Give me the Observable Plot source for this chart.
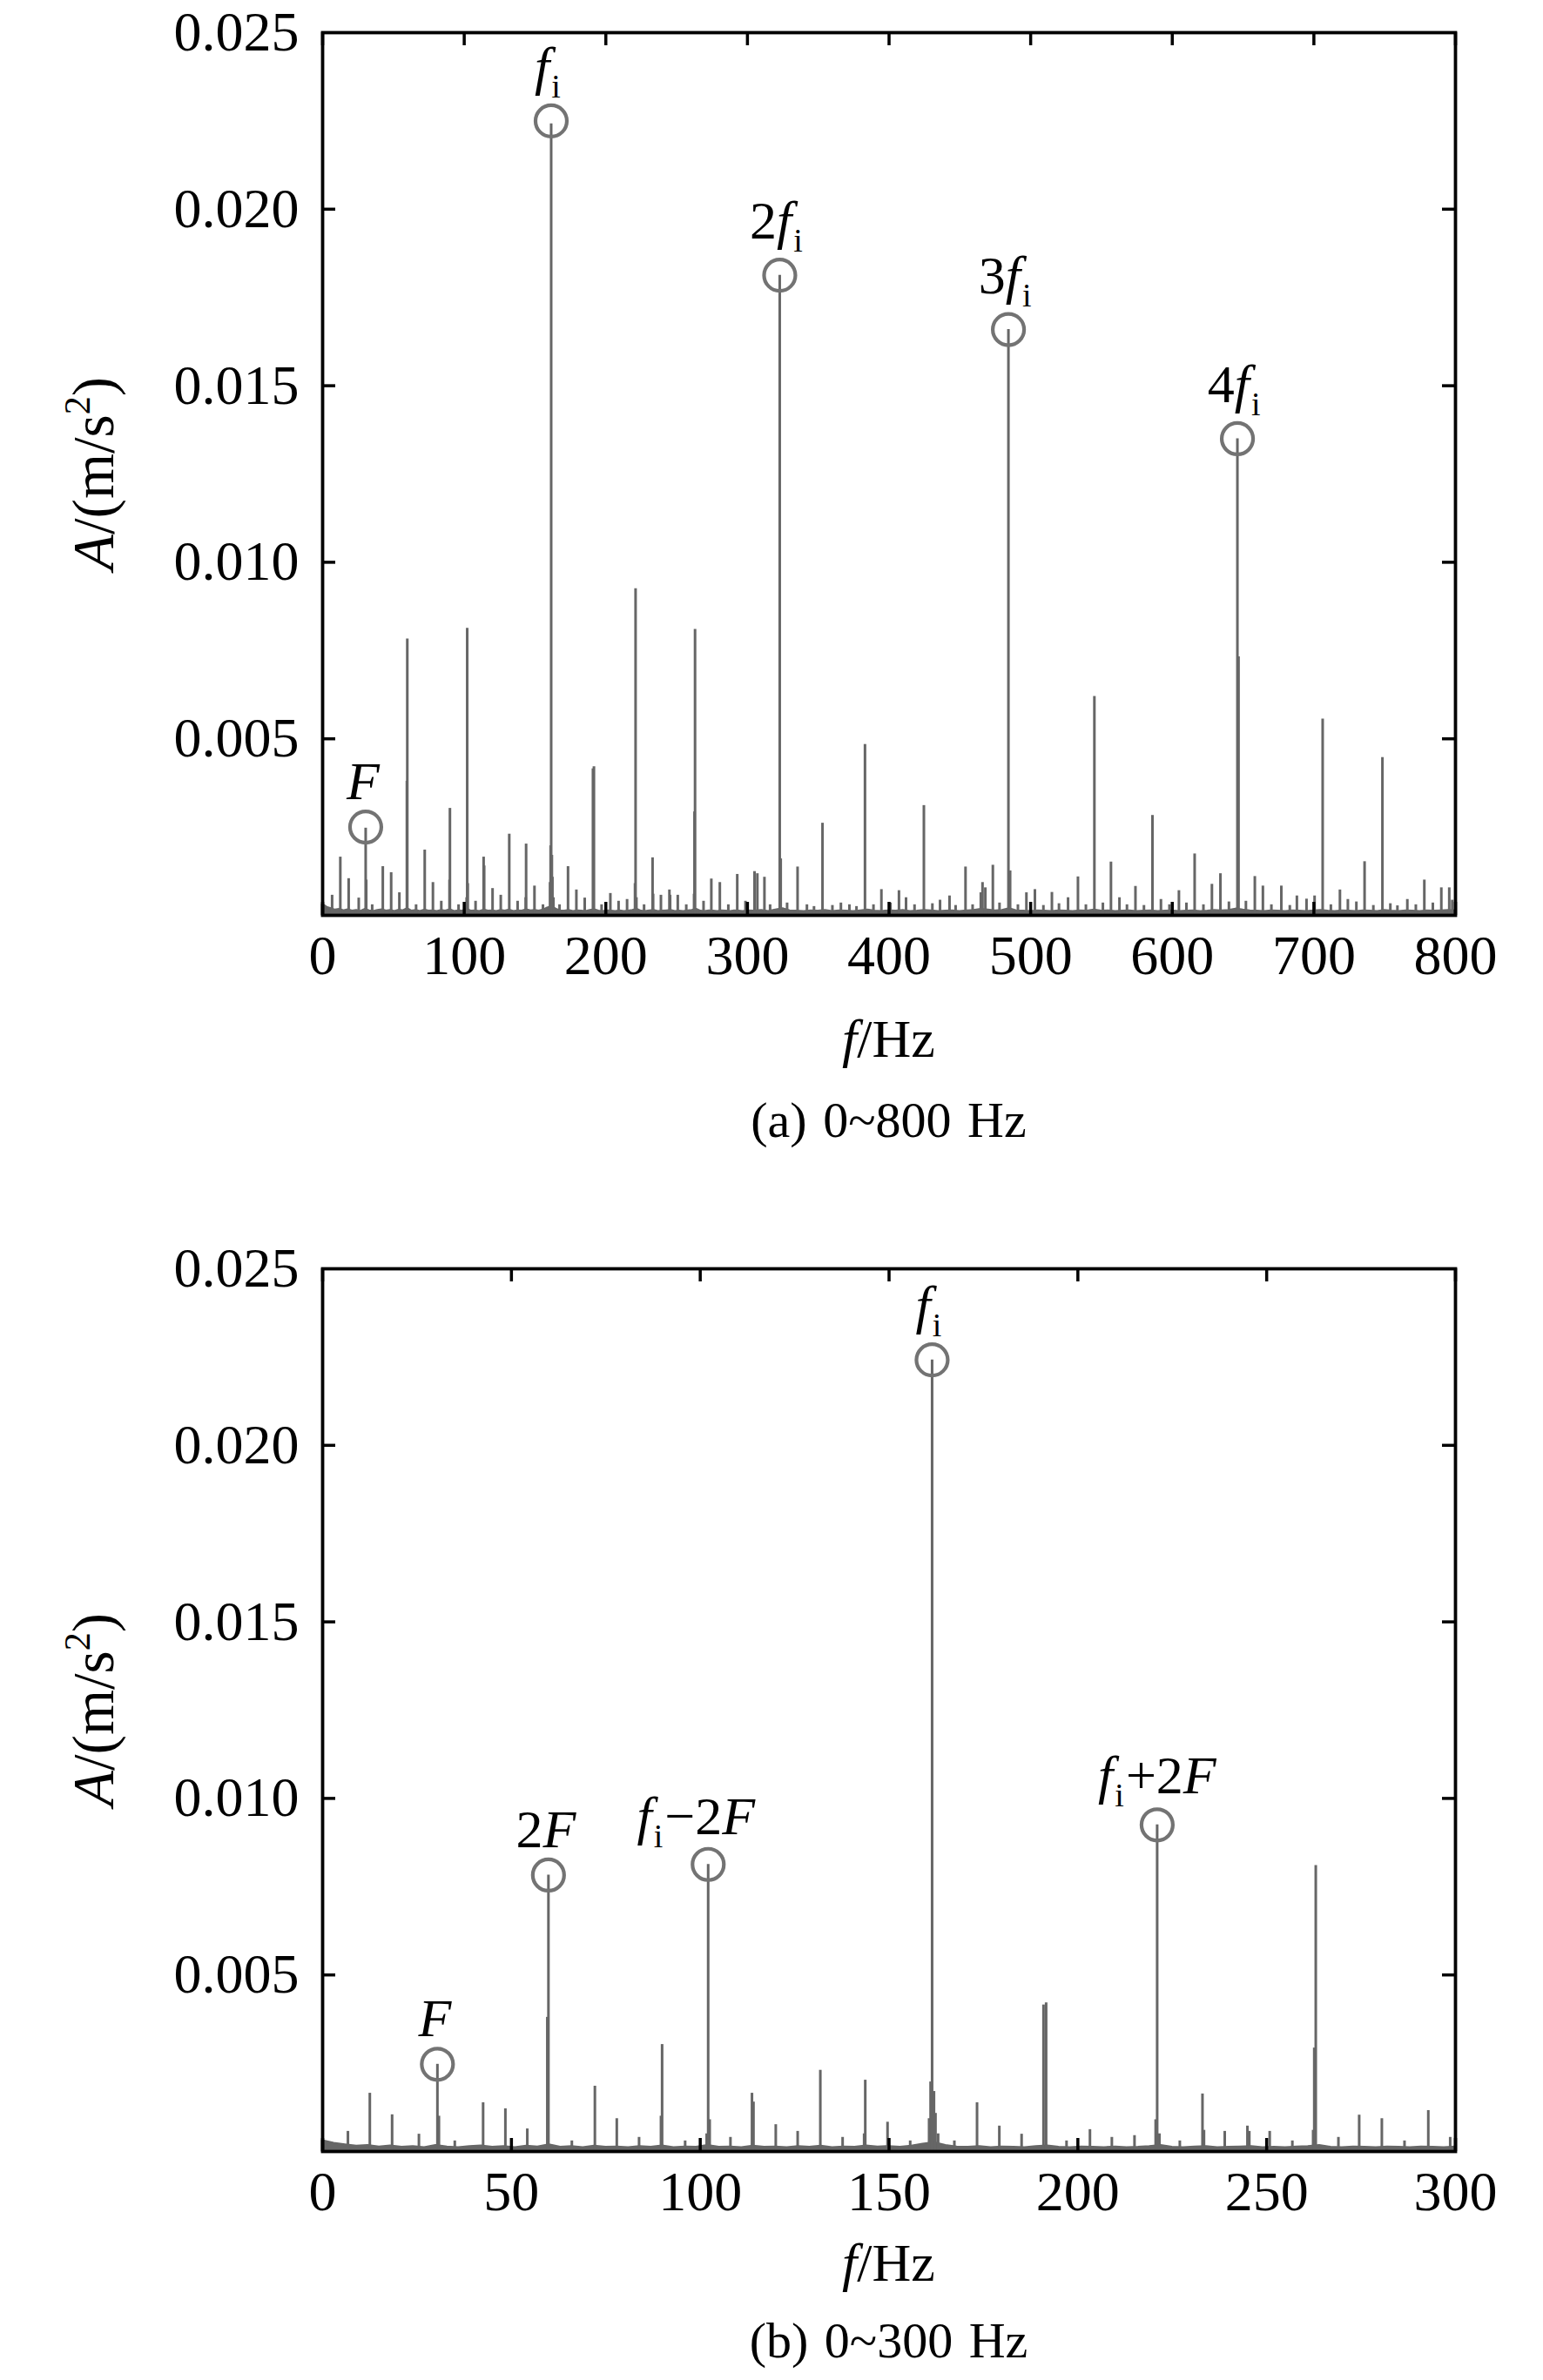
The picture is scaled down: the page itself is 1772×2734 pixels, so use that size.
<!DOCTYPE html>
<html><head><meta charset="utf-8">
<script src="https://cdn.jsdelivr.net/npm/d3@7"></script>
<script src="https://cdn.jsdelivr.net/npm/@observablehq/plot@0.6"></script>
<style>
html,body{margin:0;padding:0;background:#fff;overflow:hidden;}
#chart svg{display:block;}
</style></head><body><div id="chart"></div>
<script>
// ---- data: spectral peaks [frequency Hz, amplitude m/s^2] ----
const peaks = [
  [6.7,0.00057],[12.5,0.00165],[18.4,0.00104],[25.5,0.00049],[30.4,0.00247],[30.8,0.00100],
  [35.0,0.00030],[42.5,0.00138],[48.4,0.00121],[54.2,0.00064],[59.5,0.00380],[59.8,0.00783],
  [66.0,0.00030],[72.1,0.00185],[77.9,0.00093],[83.8,0.00040],[89.6,0.00100],[89.9,0.00303],
  [96.0,0.00030],[101.7,0.00050],[102.1,0.00813],[102.5,0.00090],[108.0,0.00040],[113.7,0.00165],
  [114.1,0.00140],[120.0,0.00076],[125.8,0.00057],[131.8,0.00230],[137.7,0.00040],[143.4,0.00050],
  [143.7,0.00202],[149.6,0.00083],[155.6,0.00030],[160.6,0.00093],[161.0,0.00197],[161.4,0.02242],
  [161.9,0.00170],[162.3,0.00108],[163.0,0.00050],[167.3,0.00030],[173.3,0.00138],[179.2,0.00072],
  [185.1,0.00049],[190.9,0.00415],[191.6,0.00421],[197.0,0.00030],[203.2,0.00062],[209.0,0.00040],
  [215.0,0.00045],[220.6,0.00090],[221.0,0.00925],[221.6,0.00050],[227.0,0.00030],[233.0,0.00163],
  [233.4,0.00060],[238.9,0.00057],[244.9,0.00072],[245.4,0.00057],[250.8,0.00057],[256.8,0.00030],
  [262.3,0.00060],[262.6,0.00293],[263.0,0.00810],[269.0,0.00040],[274.5,0.00103],[280.5,0.00093],
  [286.5,0.00030],[292.8,0.00116],[298.6,0.00040],
  [305.0,0.00124],[307.0,0.00118],[312.0,0.00108],[322.8,0.01813],[323.5,0.00160],[335.4,0.00137],
  [353.0,0.00261],[383.0,0.00484],[394.6,0.00073],[407.0,0.00070],[412.0,0.00050],[424.6,0.00311],
  [430.6,0.00033],[436.0,0.00043],[442.7,0.00055],[454.0,0.00137],[464.8,0.00064],[466.0,0.00093],
  [468.0,0.00078],[473.3,0.00142],[484.3,0.01659],[485.5,0.00126],[497.0,0.00064],[503.0,0.00073],
  [515.0,0.00065],[526.4,0.00050],[533.4,0.00109],[545.0,0.00620],[556.7,0.00151],[562.7,0.00050],
  [574.0,0.00082],[586.0,0.00283],[592.0,0.00045],[604.7,0.00070],[615.8,0.00174],[628.0,0.00088],
  [634.0,0.00118],[646.0,0.01350],[646.8,0.00732],[658.3,0.00110],[664.0,0.00083],[677.0,0.00083],
  [688.0,0.00055],[694.8,0.00046],[700.5,0.00055],[706.2,0.00556],[718.4,0.00072],[724.0,0.00045],
  [730.0,0.00038],[735.8,0.00152],[748.4,0.00447],[754.0,0.00033],[759.0,0.00027],[766.0,0.00045],
  [778.0,0.00100],[790.0,0.00078],[795.6,0.00078],[797.7,0.00043]
];
const minorPeaks = [
  [316,0.00030],[328,0.00035],[342,0.00030],[347,0.00025],[360,0.00028],[366,0.00035],[372,0.00030],
  [377,0.00025],[389,0.00030],[401,0.00035],[418,0.00030],[447,0.00028],[459,0.00030],[478,0.00035],
  [491,0.00030],[509,0.00028],[520,0.00033],[539,0.00030],[551,0.00035],[568,0.00030],[580,0.00028],
  [598,0.00030],[610,0.00035],[622,0.00030],[640,0.00038],[652,0.00040],[670,0.00030],[683,0.00028],
  [712,0.00030],[742,0.00028],[772,0.00030],[784,0.00035]
];
// noise floor level read along the baseline [frequency Hz, amplitude]
const noiseFloor = [
  [0,0.00030],[3,0.00022],[6,0.00018],[9,0.00014],[12,0.00016],[15,0.00012],[18,0.00015],[21,0.00011],
  [24,0.00013],[27,0.00010],[30,0.00016],[33,0.00012],[36,0.00010],[39,0.00013],[42,0.00015],[45,0.00011],
  [48,0.00013],[51,0.00010],[54,0.00014],[57,0.00012],[60,0.00018],[63,0.00011],[66,0.00013],[69,0.00010],
  [72,0.00014],[75,0.00011],[78,0.00012],[81,0.00010],[84,0.00013],[87,0.00011],[90,0.00015],[93,0.00010],
  [96,0.00012],[99,0.00011],[102,0.00016],[105,0.00011],[108,0.00012],[111,0.00010],[114,0.00014],[117,0.00011],
  [120,0.00012],[123,0.00010],[126,0.00013],[129,0.00011],[132,0.00014],[135,0.00010],[138,0.00012],[141,0.00011],
  [144,0.00015],[147,0.00012],[150,0.00013],[153,0.00011],[156,0.00014],[159,0.00020],[162,0.00024],[165,0.00016],
  [168,0.00012],[171,0.00011],[174,0.00013],[177,0.00010],[180,0.00012],[183,0.00011],[186,0.00010],[189,0.00013],
  [192,0.00015],[195,0.00011],[198,0.00010],[201,0.00012],[204,0.00011],[207,0.00010],[210,0.00012],[213,0.00010],
  [216,0.00011],[219,0.00013],[222,0.00016],[225,0.00011],[228,0.00010],[231,0.00012],[234,0.00013],[237,0.00010],
  [240,0.00011],[243,0.00012],[246,0.00013],[249,0.00010],[252,0.00011],[255,0.00010],[258,0.00012],[261,0.00013],
  [264,0.00016],[267,0.00011],[270,0.00010],[273,0.00012],[276,0.00011],[279,0.00010],[282,0.00012],[285,0.00011],
  [288,0.00010],[291,0.00012],[294,0.00011],[297,0.00010],[300,0.00012],
  [305,0.00011],[310,0.00013],[315,0.00010],[320,0.00014],[325,0.00018],[330,0.00012],[335,0.00011],[340,0.00010],
  [345,0.00012],[350,0.00011],[355,0.00013],[360,0.00010],[365,0.00012],[370,0.00011],[375,0.00010],[380,0.00012],
  [385,0.00014],[390,0.00011],[395,0.00010],[400,0.00012],[405,0.00011],[410,0.00013],[415,0.00010],[420,0.00011],
  [425,0.00013],[430,0.00012],[435,0.00010],[440,0.00011],[445,0.00012],[450,0.00010],[455,0.00012],[460,0.00013],
  [465,0.00016],[470,0.00014],[475,0.00012],[480,0.00013],[485,0.00018],[490,0.00012],[495,0.00011],[500,0.00010],
  [505,0.00012],[510,0.00011],[515,0.00010],[520,0.00012],[525,0.00011],[530,0.00010],[535,0.00012],[540,0.00011],
  [545,0.00014],[550,0.00011],[555,0.00012],[560,0.00010],[565,0.00011],[570,0.00012],[575,0.00010],[580,0.00011],
  [585,0.00012],[590,0.00010],[595,0.00011],[600,0.00012],[605,0.00010],[610,0.00011],[615,0.00012],[620,0.00010],
  [625,0.00011],[630,0.00013],[635,0.00012],[640,0.00013],[645,0.00017],[650,0.00014],[655,0.00012],[660,0.00011],
  [665,0.00010],[670,0.00012],[675,0.00011],[680,0.00010],[685,0.00012],[690,0.00011],[695,0.00010],[700,0.00012],
  [705,0.00013],[710,0.00011],[715,0.00010],[720,0.00012],[725,0.00011],[730,0.00010],[735,0.00012],[740,0.00011],
  [745,0.00010],[750,0.00013],[755,0.00011],[760,0.00010],[765,0.00012],[770,0.00011],[775,0.00010],[780,0.00012],
  [785,0.00011],[790,0.00012],[795,0.00013],[800,0.00012]
];
// annotated peaks (group: label placement style)
const marksA = [
  {f:30.4, a:0.00250, label:"F", group:"plain"},
  {f:161.4, a:0.02250, label:"f_i", group:"harm"},
  {f:322.8, a:0.01813, label:"2f_i", group:"harm"},
  {f:484.3, a:0.01659, label:"3f_i", group:"harm"},
  {f:646.0, a:0.01350, label:"4f_i", group:"harm"}
];
const marksB = [
  {f:30.4, a:0.00247, label:"F", group:"plain"},
  {f:59.8, a:0.00783, label:"2F", group:"plain"},
  {f:102.1, a:0.00813, label:"f_i\u22122F", group:"side"},
  {f:161.4, a:0.02242, label:"f_i", group:"harm"},
  {f:221.0, a:0.00925, label:"f_i+2F", group:"side2"}
];
const xTicksA = [0,100,200,300,400,500,600,700,800];
const xTicksB = [0,50,100,150,200,250,300];
const yTicks = [0.005,0.010,0.015,0.020,0.025];
const yInnerTicks = [0.005,0.010,0.015,0.020];
const captionA = "(a) 0~800 Hz";
const captionB = "(b) 0~300 Hz";

// ---- drawing ----
const GRAY = "#666666";
const FONT = "'Liberation Serif','Times New Roman',Times,serif";
const W = 1772, ML = 370, MR = 101, PH = 1014, PW = W - ML - MR;
const TICK = 15;
const LABEL_SIZE = 62;
const placement = {plain: {dy: -32, dx: -3}, harm: {dy: -42, dx: -4}, side: {dy: -35, dx: -14}, side2: {dy: -36, dx: 0}};

function richText(sel, str, size) {
  sel.text(null);
  const subSize = Math.round(size * 0.62), shift = Math.round(size * 0.24);
  let pending = false;
  for (let i = 0; i < str.length; i++) {
    let c = str[i];
    if (c === "_") {
      c = str[++i];
      sel.append("tspan").attr("font-size", subSize).attr("font-style", "normal").attr("dx", 2).attr("dy", shift).text(c);
      pending = true;
      continue;
    }
    const t = sel.append("tspan").text(c);
    if (pending) { t.attr("dy", -shift).attr("dx", 2); pending = false; }
    if (c === "f" || c === "F" || c === "A") t.attr("font-style", "italic");
  }
}

function panel({xmax, xTicks, ann, marginTop, height, caption, xLabelY, captionY, yLabelY}) {
  const marginBottom = height - marginTop - PH;
  const pk = peaks.concat(minorPeaks).filter(d => d[0] <= xmax);
  const fl = noiseFloor.filter(d => d[0] <= xmax);
  const labelMarks = Array.from(d3.group(ann, d => d.group), ([g, rows]) =>
    Plot.text(rows, {x: "f", y: "a", text: "label", dy: placement[g].dy, dx: placement[g].dx,
      lineAnchor: "bottom", fontSize: LABEL_SIZE, fill: "#000"}));
  const svg = Plot.plot({
    width: W, height, marginLeft: ML, marginRight: MR, marginTop, marginBottom,
    style: {fontFamily: FONT, fontSize: "64px", background: "#fff", color: "#000", overflow: "visible"},
    x: {domain: [0, xmax], label: null},
    y: {domain: [0, 0.025], label: null},
    marks: [
      Plot.areaY(fl, {x: d => d[0], y: d => d[1], fill: GRAY, stroke: GRAY, strokeWidth: 3}),
      Plot.ruleX(pk, {x: d => d[0], y1: 0, y2: d => d[1], stroke: GRAY, strokeWidth: 3}),
      Plot.dot(ann, {x: "f", y: "a", r: 18, stroke: "#737373", strokeWidth: 4.2, fill: "none"}),
      ...labelMarks,
      Plot.ruleX(xTicks, {x: d => d, insetTop: PH - TICK, stroke: "#000", strokeWidth: 3.5}),
      Plot.ruleX(xTicks, {x: d => d, insetBottom: PH - TICK, stroke: "#000", strokeWidth: 3.5}),
      Plot.ruleY(yInnerTicks, {y: d => d, insetRight: PW - TICK, stroke: "#000", strokeWidth: 3.5}),
      Plot.ruleY(yInnerTicks, {y: d => d, insetLeft: PW - TICK, stroke: "#000", strokeWidth: 3.5}),
      Plot.frame({stroke: "#000", strokeWidth: 3.8}),
      Plot.axisX(xTicks, {tickSize: 0, tickPadding: 22, fontSize: 64, label: null, fill: "#000"}),
      Plot.axisY(yTicks, {tickSize: 0, tickPadding: 27, fontSize: 64, label: null, fill: "#000",
        tickFormat: d3.format(".3f")})
    ]
  });
  const s = d3.select(svg);
  const labels = new Set(ann.map(d => d.label));
  s.selectAll("text").filter(function() { return labels.has(this.textContent); })
    .each(function() { richText(d3.select(this), this.textContent, LABEL_SIZE); });
  const cx = ML + PW / 2;
  const xl = s.append("text").attr("x", cx).attr("y", xLabelY).attr("text-anchor", "middle")
    .attr("font-size", 62).attr("font-family", FONT).attr("fill", "#000");
  xl.append("tspan").attr("font-style", "italic").text("f");
  xl.append("tspan").text("/Hz");
  s.append("text").attr("x", cx).attr("y", captionY).attr("text-anchor", "middle")
    .attr("font-size", 58).attr("font-family", FONT).attr("fill", "#000")
    .attr("word-spacing", 4).text(caption);
  const yl = s.append("text").attr("transform", `translate(130,${yLabelY}) rotate(-90)`)
    .attr("text-anchor", "middle").attr("font-size", 67).attr("font-family", FONT).attr("fill", "#000");
  yl.append("tspan").attr("font-style", "italic").text("A");
  yl.append("tspan").text("/(m/s");
  yl.append("tspan").attr("font-size", 42).attr("dy", -27).text("2");
  yl.append("tspan").attr("dy", 27).text(")");
  return svg;
}

const root = document.getElementById("chart");
root.appendChild(panel({xmax: 800, xTicks: xTicksA, ann: marksA, marginTop: 37, height: 1340,
  caption: captionA, xLabelY: 1214, captionY: 1306, yLabelY: 544}));
root.appendChild(panel({xmax: 300, xTicks: xTicksB, ann: marksB, marginTop: 117, height: 1394,
  caption: captionB, xLabelY: 1280, captionY: 1368, yLabelY: 624}));
</script>
</body></html>
